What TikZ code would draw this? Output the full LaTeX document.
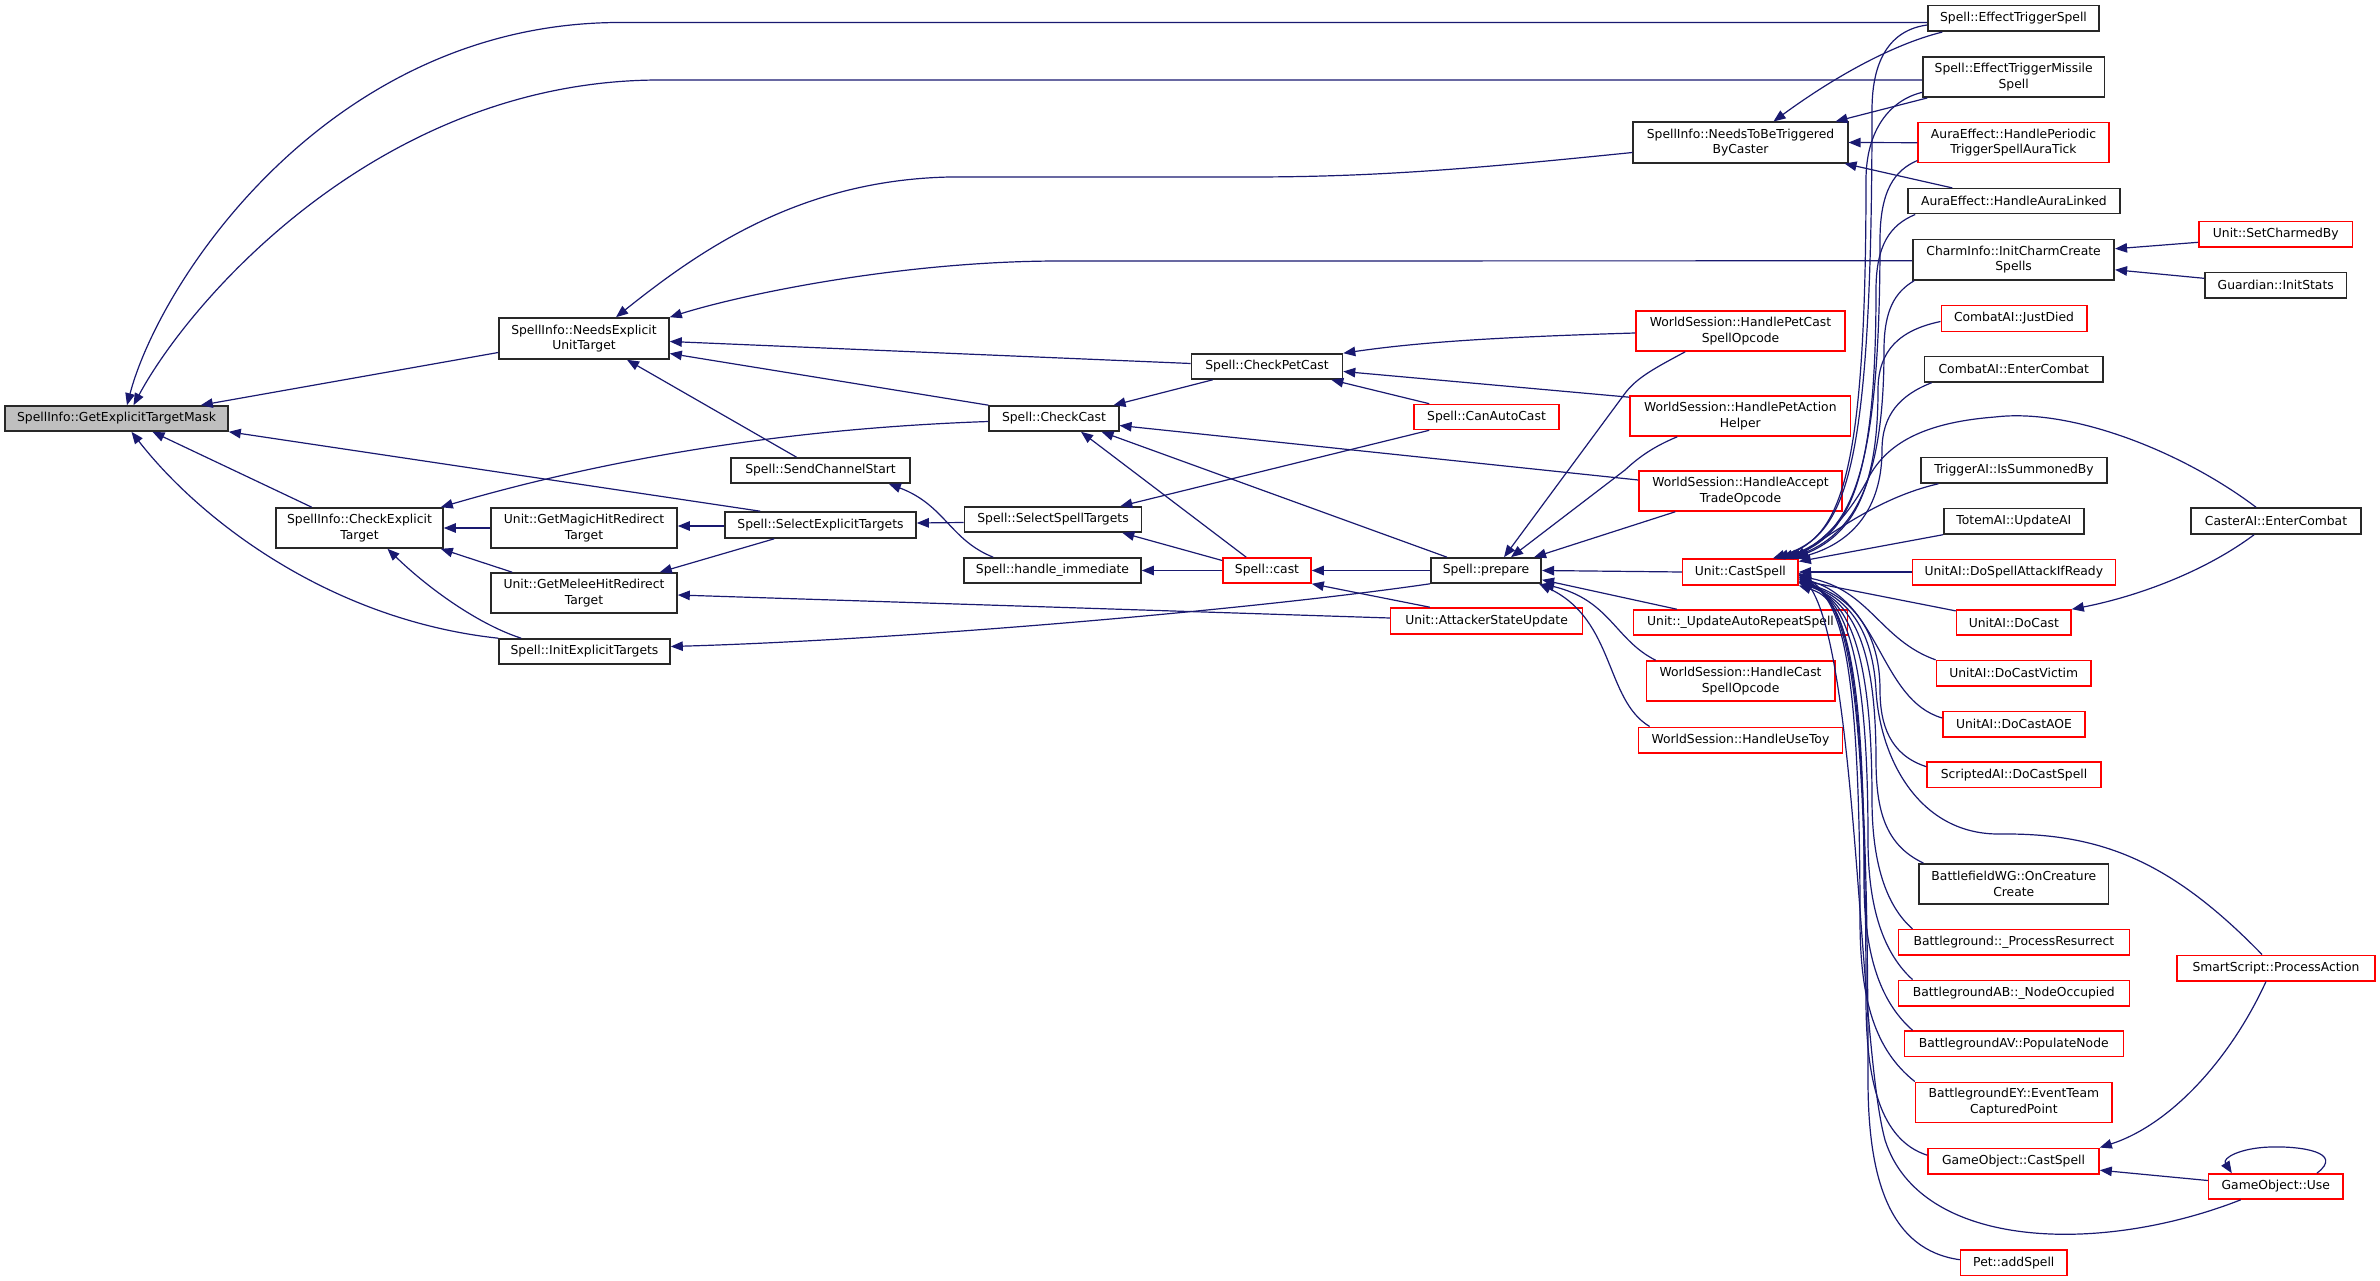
\documentclass[tikz,border=0pt]{standalone}
\usepackage{fontspec}
\setmainfont{DejaVu Sans}
\usetikzlibrary{arrows.meta}
\definecolor{edgeblue}{RGB}{25,25,112}
\definecolor{rootgray}{RGB}{191,191,191}
\definecolor{boxred}{RGB}{255,0,0}
\definecolor{boxblack}{RGB}{40,40,40}
\newcommand{\mybox}[6]{\node[#1,minimum width=#5pt,minimum height=#6pt] (#2) at (#3,#4)}
\begin{document}
\begin{tikzpicture}[x=1pt,y=-1pt,
 box/.style={draw=boxblack, line width=1.6pt, fill=white, inner sep=0pt, align=center, font=\fontsize{12.35}{15.5}\selectfont},
 nb/.style={box},
 nr/.style={box, draw=boxred},
 e/.style={draw=edgeblue, line width=1.2pt, -{Triangle[length=12pt,width=9.5pt]}}]
\useasboundingbox (0,0) rectangle (2380,1281);
% nodes
\mybox{nb,fill=rootgray}{M}{116.5}{418.5}{223}{25}{SpellInfo::GetExplicitTargetMask};
\mybox{nb}{N}{584}{338.5}{170}{41}{SpellInfo::NeedsExplicit\\UnitTarget};
\mybox{nb}{C}{359.5}{528}{167}{40}{SpellInfo::CheckExplicit\\Target};
\mybox{nb}{Mag}{584}{528}{186}{40}{Unit::GetMagicHitRedirect\\Target};
\mybox{nb}{Mel}{584}{593}{186}{40}{Unit::GetMeleeHitRedirect\\Target};
\mybox{nb}{I}{584.5}{651.5}{171}{25}{Spell::InitExplicitTargets};
\mybox{nb}{SCS}{820.5}{470.5}{179}{25}{Spell::SendChannelStart};
\mybox{nb}{SET}{820.5}{525}{191}{26}{Spell::SelectExplicitTargets};
\mybox{nb}{CC}{1054}{418.5}{129.5}{25}{Spell::CheckCast};
\mybox{nb}{SST}{1053}{519.5}{177}{25}{Spell::SelectSpellTargets};
\mybox{nb}{HI}{1052.5}{570.5}{177}{25}{Spell::handle\_immediate};
\mybox{nb}{CPC}{1267}{366.5}{151}{25}{Spell::CheckPetCast};
\mybox{nr}{CAC}{1486.5}{417}{145}{25}{Spell::CanAutoCast};
\mybox{nr}{cast}{1267}{570.5}{88}{25}{Spell::cast};
\mybox{nr}{ASU}{1486.6}{621}{192}{26}{Unit::AttackerStateUpdate};
\mybox{nb}{P}{1486}{570.5}{110.5}{25}{Spell::prepare};
\mybox{nb}{T}{1740.5}{142.5}{214.5}{40.5}{SpellInfo::NeedsToBeTriggered\\ByCaster};
\mybox{nr}{WPC}{1740.5}{331}{209}{40}{WorldSession::HandlePetCast\\SpellOpcode};
\mybox{nr}{WPA}{1740.3}{416}{220.5}{40}{WorldSession::HandlePetAction\\Helper};
\mybox{nr}{WAT}{1740.5}{491}{203}{40}{WorldSession::HandleAccept\\TradeOpcode};
\mybox{nr}{U}{1740.3}{572}{115.5}{25.5}{Unit::CastSpell};
\mybox{nr}{UAR}{1740.5}{622.5}{214}{25}{Unit::\_UpdateAutoRepeatSpell};
\mybox{nr}{WCS}{1740.6}{681}{188.4}{40}{WorldSession::HandleCast\\SpellOpcode};
\mybox{nr}{WUT}{1740.4}{740}{204}{25.4}{WorldSession::HandleUseToy};
\mybox{nb}{ETS}{2013.5}{18.5}{171}{25.6}{Spell::EffectTriggerSpell};
\mybox{nb}{ETM}{2013.7}{77}{181.4}{40.3}{Spell::EffectTriggerMissile\\Spell};
\mybox{nr}{AEP}{2013.5}{142.7}{190.5}{40}{AuraEffect::HandlePeriodic\\TriggerSpellAuraTick};
\mybox{nb}{AEL}{2013.9}{201.2}{211.8}{25}{AuraEffect::HandleAuraLinked};
\mybox{nb}{CI}{2013.6}{259.8}{201.3}{40.3}{CharmInfo::InitCharmCreate\\Spells};
\mybox{nr}{CJD}{2014}{318.5}{145.4}{25.6}{CombatAI::JustDied};
\mybox{nb}{CEC}{2013.8}{369.3}{178.8}{25.3}{CombatAI::EnterCombat};
\mybox{nb}{TAI}{2014}{470.3}{185.6}{25.3}{TriggerAI::IsSummonedBy};
\mybox{nb}{TOT}{2013.8}{521.3}{140.2}{25.3}{TotemAI::UpdateAI};
\mybox{nr}{DSA}{2013.8}{572}{203}{25.4}{UnitAI::DoSpellAttackIfReady};
\mybox{nr}{DC}{2013.8}{622.5}{114.5}{25}{UnitAI::DoCast};
\mybox{nr}{DCV}{2013.7}{673.3}{154.6}{25.3}{UnitAI::DoCastVictim};
\mybox{nr}{DCA}{2014}{724}{142}{25.4}{UnitAI::DoCastAOE};
\mybox{nr}{SDC}{2014}{774.7}{173.6}{25.3}{ScriptedAI::DoCastSpell};
\mybox{nb}{BWG}{2013.8}{884}{189.2}{40.3}{BattlefieldWG::OnCreature\\Create};
\mybox{nr}{BPR}{2013.8}{942.3}{231}{25.3}{Battleground::\_ProcessResurrect};
\mybox{nr}{BAB}{2013.8}{993.2}{231}{25.7}{BattlegroundAB::\_NodeOccupied};
\mybox{nr}{BAV}{2013.8}{1043.7}{219}{25.3}{BattlegroundAV::PopulateNode};
\mybox{nr}{BEY}{2013.8}{1102.3}{196.5}{40}{BattlegroundEY::EventTeam\\CapturedPoint};
\mybox{nr}{GCS}{2013.5}{1161.2}{171}{25.7}{GameObject::CastSpell};
\mybox{nr}{PAS}{2013.8}{1262.7}{106.5}{25.3}{Pet::addSpell};
\mybox{nr}{SCB}{2275.8}{234.3}{153.7}{25.3}{Unit::SetCharmedBy};
\mybox{nb}{GIS}{2275.7}{285.3}{141.8}{25.3}{Guardian::InitStats};
\mybox{nb}{CAE}{2276}{521}{170}{26}{CasterAI::EnterCombat};
\mybox{nr}{SSP}{2276}{968}{198.5}{25.4}{SmartScript::ProcessAction};
\mybox{nr}{GOU}{2275.8}{1186.5}{134.5}{25}{GameObject::Use};
% edges into GetExplicitTargetMask
\draw[e] ([yshift=-4pt]ETS.west) -- (620,22.5) .. controls (330,22.5) and (160,280) .. ([xshift=10.5pt]M.north);
\draw[e] ([yshift=-3pt]ETM.west) -- (660,80) .. controls (380,80) and (190,300) .. ([xshift=17pt]M.north);
\draw[e] ([yshift=-14pt]N.west) -- ([xshift=-28pt]M.north east);
\draw[e] ([xshift=36pt]SET.north west) -- (M.south east);
\draw[e] ([xshift=36.5pt]C.north west) -- ([xshift=36pt]M.south);
\draw[e] (I.north west) .. controls (330,620) and (200,520) .. ([xshift=15pt]M.south);
% into NeedsExplicitUnitTarget
\draw[e] ([yshift=-10pt]T.west) .. controls (1480,168) and (1380,177) .. (1250,177) -- (950,177) .. controls (800,180) and (700,250) .. ([xshift=32pt]N.north);
\draw[e] ([yshift=-1pt]CI.west) -- (1060,261) .. controls (900,261) and (740,295) .. (N.north east);
\draw[e] ([yshift=3pt]CPC.west) -- ([yshift=-3pt]N.east);
\draw[e] (CC.north west) -- ([yshift=-15pt]N.east);
\draw[e] ([xshift=-24pt]SCS.north) -- ([xshift=43pt]N.south);
% into CheckExplicitTarget
\draw[e] ([yshift=-3pt]CC.west) .. controls (800,428) and (620,455) .. ([xshift=-3pt]C.north east);
\draw[e] (Mag.west) -- (C.east);
\draw[e] ([xshift=22pt]Mel.north west) -- ([xshift=-3pt]C.south east);
\draw[e] ([xshift=23pt]I.north west) .. controls (480,625) and (430,590) .. ([xshift=28pt]C.south);
% Magic / Melee / Init
\draw[e] ([yshift=-1pt]SET.west) -- ([yshift=2pt]Mag.east);
\draw[e] ([xshift=50pt]SET.south west) -- ([xshift=-18pt]Mel.north east);
\draw[e] ([yshift=3pt]ASU.west) -- ([yshift=-2pt]Mel.east);
\draw[e] (P.south west) .. controls (1250,610) and (900,640) .. ([yshift=5pt]I.east);
% SelectExplicitTargets, SendChannelStart
\draw[e] ([yshift=-3pt]SST.west) -- ([yshift=2pt]SET.east);
\draw[e] ([xshift=30pt]HI.north west) .. controls (950,540) and (945,505) .. ([xshift=-22pt]SCS.south east);
% CheckCast
\draw[e] ([xshift=22pt]CPC.south west) -- ([xshift=-6pt]CC.north east);
\draw[e] ([yshift=11pt]WAT.west) -- ([yshift=-7pt]CC.east);
\draw[e] ([xshift=24pt]cast.north west) -- ([xshift=27pt]CC.south);
\draw[e] ([xshift=17pt]P.north west) -- ([xshift=-18pt]CC.south east);
% SelectSpellTargets, handle_immediate
\draw[e] ([xshift=16pt]CAC.south west) -- ([xshift=-22pt]SST.north east);
\draw[e] ([yshift=10pt]cast.west) -- ([xshift=-20pt]SST.south east);
\draw[e] (cast.west) -- (HI.east);
% CheckPetCast
\draw[e] ([yshift=-2pt]WPC.west) .. controls (1500,337) and (1420,342) .. (CPC.north east);
\draw[e] ([yshift=-2pt]WPA.north west) -- ([yshift=-5pt]CPC.east);
\draw[e] ([xshift=16pt]CAC.north west) -- ([xshift=-12pt]CPC.south east);
% cast
\draw[e] (P.west) -- (cast.east);
\draw[e] ([xshift=40pt]ASU.north west) -- (cast.south east);
% prepare
\draw[e] ([xshift=50pt]WPC.south west) .. controls (1655,368) and (1638,377) .. (1626,392) -- ([xshift=18pt]P.north);
\draw[e] ([xshift=48pt]WPA.south west) .. controls (1655,446) and (1640,456) .. (1625,470) -- ([xshift=25pt]P.north);
\draw[e] ([xshift=37pt]WAT.south west) -- ([xshift=-8pt]P.north east);
\draw[e] (U.west) -- (P.east);
\draw[e] ([xshift=44pt]UAR.north west) -- ([yshift=4pt]P.south east);
\draw[e] ([xshift=10pt]WCS.north west) .. controls (1615,640) and (1610,600) .. (P.south east);
\draw[e] ([xshift=12pt]WUT.north west) .. controls (1605,700) and (1615,620) .. ([xshift=-3pt]P.south east);
% NeedsToBeTriggeredByCaster
\draw[e] ([xshift=15pt]ETS.south west) .. controls (1890,45) and (1830,80) .. ([xshift=33pt]T.north);
\draw[e] ([xshift=5pt]ETM.south west) -- ([xshift=-13pt]T.north east);
\draw[e] (AEP.west) -- (T.east);
\draw[e] ([xshift=45pt]AEL.north west) -- ([xshift=-4pt]T.south east);
% CharmInfo
\draw[e] ([yshift=-8pt]SCB.west) -- ([yshift=11pt]CI.east);
\draw[e] ([yshift=7pt]GIS.west) -- ([yshift=-10pt]CI.east);
% Unit::CastSpell, callers from above
\draw[e] ([yshift=-6.5pt]ETS.west) .. controls (1890,30) and (1872,60) .. (1872,110) .. controls (1872,480) and (1845,535) .. ([xshift=-26pt]U.north east);
\draw[e] ([yshift=5.6pt]ETM.south west) .. controls (1890,100) and (1866,130) .. (1866,180) .. controls (1866,480) and (1840,535) .. ([xshift=-22pt]U.north east);
\draw[e] ([yshift=3pt]AEP.south west) .. controls (1895,170) and (1880,190) .. (1880,240) .. controls (1880,480) and (1850,535) .. ([xshift=-18pt]U.north east);
\draw[e] ([xshift=8pt]AEL.south west) .. controls (1890,225) and (1876,245) .. (1876,290) .. controls (1876,480) and (1850,535) .. ([xshift=-14pt]U.north east);
\draw[e] ([xshift=2pt]CI.south west) .. controls (1895,292) and (1884,310) .. (1884,350) .. controls (1884,480) and (1855,535) .. ([xshift=-10pt]U.north east);
\draw[e] ([yshift=-3pt]CJD.west) .. controls (1900,330) and (1878,350) .. (1878,390) .. controls (1878,485) and (1855,535) .. ([xshift=-6pt]U.north east);
\draw[e] ([xshift=8pt]CEC.south west) .. controls (1900,395) and (1882,415) .. (1882,450) .. controls (1882,500) and (1860,540) .. ([xshift=-2pt]U.north east);
\draw[e] ([xshift=-20pt]CAE.north) .. controls (2180,450) and (2070,408) .. (1995,417) .. controls (1930,422) and (1890,440) .. (1870,475) .. controls (1850,515) and (1820,545) .. ([xshift=-12pt]U.north east);
\draw[e] ([xshift=18pt]TAI.south west) .. controls (1890,495) and (1850,520) .. ([xshift=-4pt]U.north east);
\draw[e] (TOT.south west) -- ([yshift=-3pt]U.north east);
\draw[e] (DSA.west) -- (U.east);
% Unit::CastSpell, callers from below
\draw[e] ([yshift=-1.7pt]DC.north west) -- ([yshift=-8pt]U.east);
\draw[e] (DCV.north west) .. controls (1880,640) and (1870,590) .. ([yshift=-4pt]U.east);
\draw[e] ([yshift=6pt]DCA.west) .. controls (1880,700) and (1880,600) .. ([yshift=-6pt]U.east);
\draw[e] ([yshift=8pt]SDC.west) .. controls (1890,755) and (1880,725) .. (1880,690) .. controls (1880,630) and (1850,595) .. ([yshift=-10pt]U.east);
\draw[e] ([xshift=5pt]BWG.north west) .. controls (1885,845) and (1876,810) .. (1876,760) .. controls (1876,640) and (1850,600) .. ([yshift=-11pt]U.east);
\draw[e] ([xshift=15pt]BPR.north west) .. controls (1885,905) and (1872,860) .. (1872,800) .. controls (1872,640) and (1845,600) .. ([yshift=-9pt]U.east);
\draw[e] ([xshift=15pt]BAB.north west) .. controls (1880,950) and (1868,900) .. (1868,840) .. controls (1868,640) and (1842,600) .. ([yshift=-7pt]U.east);
\draw[e] ([xshift=9pt]BAV.north west) .. controls (1878,1000) and (1864,950) .. (1864,880) .. controls (1864,640) and (1840,600) .. ([yshift=-5pt]U.east);
\draw[e] (BEY.north west) .. controls (1875,1050) and (1860,1000) .. (1860,920) .. controls (1860,640) and (1838,600) .. ([yshift=-3pt]U.east);
\draw[e] ([yshift=6pt]GCS.west) .. controls (1880,1140) and (1866,1080) .. (1866,1000) .. controls (1866,640) and (1840,600) .. ([yshift=-1pt]U.east);
\draw[e] ([xshift=33pt]GOU.south west) .. controls (2100,1255) and (1920,1250) .. (1885,1140) .. controls (1858,1040) and (1858,640) .. ([yshift=-2pt]U.east);
\draw[e] ([yshift=3pt]PAS.west) .. controls (1890,1250) and (1868,1180) .. (1868,1080) .. controls (1868,640) and (1845,600) .. (U.south east);
\draw[e] ([xshift=-14pt]SSP.north) .. controls (2170,860) and (2100,833) .. (2000,834) .. controls (1920,835) and (1880,760) .. (1876,690) .. controls (1872,620) and (1840,595) .. ([yshift=-10pt]U.east);
% remaining
\draw[e] ([xshift=-22pt]CAE.south) .. controls (2200,575) and (2130,598) .. (DC.north east);
\draw[e] ([xshift=-10pt]SSP.south) .. controls (2230,1060) and (2170,1125) .. (GCS.north east);
\draw[e] ([yshift=6pt]GOU.west) -- ([yshift=-9pt]GCS.east);
\draw[e] ([xshift=-27pt]GOU.north east) .. controls (2345,1152) and (2300,1146) .. (2270,1147) .. controls (2240,1148) and (2222,1158) .. ([xshift=-44pt]GOU.north);
\end{tikzpicture}
\end{document}
